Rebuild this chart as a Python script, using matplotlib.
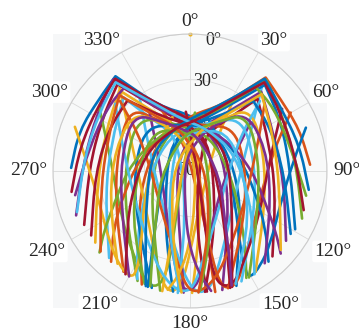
import matplotlib.pyplot as plt
import numpy as np
from matplotlib.patches import Rectangle, PathPatch
from matplotlib.path import Path
from matplotlib.transforms import IdentityTransform

# azimuth / elevation (deg) of the satellite tracks
left_az = [
    [271.5, 290.0, 308.7, 321.8, 334.9, 0.0, 33.3, 79.2, 122.6, 146.3, 158.0],
    [248.7, 274.3, 302.2, 320.1, 329.9, 347.9, 12.3, 52.5, 120.1, 153.4, 164.8],
    [243.0, 271.7, 299.6, 320.1, 332.7, 348.7, 6.6, 41.0, 142.0, 164.1, 172.9],
    [232.9, 262.6, 294.3, 318.8, 328.9, 341.9, 0.0, 51.3, 166.6, 175.1, 179.0],
    [222.9, 255.3, 289.7, 317.9, 323.0, 329.8, 335.6, 254.0, 186.1, 185.3, 185.7],
    [213.4, 246.6, 284.0, 316.4, 329.0, 344.0, 0.0, 125.0, 163.9, 167.1, 168.2],
    [205.5, 236.7, 277.1, 315.5, 337.4, 0.0, 31.2, 85.5, 130.0, 144.5, 152.2],
    [198.1, 225.0, 268.0, 313.7, 341.9, 6.2, 32.0, 75.4, 108.7, 127.2, 139.1],
    [258.1, 283.0, 307.5, 321.9, 336.7, 12.3, 55.0, 90.0, 113.1, 125.2, 132.3],
    [236.9, 268.8, 298.3, 318.5, 334.7, 0.0, 28.2, 113.2, 150.6, 157.6, 161.0],
    [218.0, 251.3, 287.3, 317.5, 335.1, 349.9, 32.0, 171.1, 180.0, 185.6, 190.6],
    [201.9, 231.0, 279.1, 318.8, 346.0, 13.6, 39.8, 137.7, 162.1, 170.9, 175.2],
    [260, 282, 305, 321, 333, 355, 20, 66, 128, 150, 160],
    [228, 258, 291, 317, 327, 338, 352, 70, 155, 170, 176],
    [210, 240, 280, 315, 331, 350, 15, 100, 145, 155, 160],
    [250, 277, 303, 320, 333, 352, 22, 70, 118, 138, 148],
]
left_el = [
    [11.9, 12.5, 13.7, 10.8, 43.2, 52.9, 59.9, 61.7, 50.7, 32.7, 8.6],
    [9.7, 19.6, 18.0, 11.5, 37.2, 52.1, 58.8, 65.0, 60.9, 36.7, 9.0],
    [12.0, 23.8, 23.0, 15.7, 43.8, 56.2, 61.3, 69.8, 63.1, 37.0, 10.0],
    [12.0, 28.6, 29.0, 19.6, 45.2, 58.0, 68.2, 81.5, 61.4, 35.5, 9.9],
    [12.0, 32.5, 35.1, 24.9, 46.0, 57.1, 66.0, 85.2, 58.7, 32.1, 9.5],
    [10.7, 36.6, 40.9, 32.4, 51.4, 61.1, 71.5, 81.9, 54.2, 30.9, 8.8],
    [10.0, 39.3, 47.3, 40.9, 55.6, 62.2, 64.4, 64.8, 46.8, 27.4, 10.6],
    [9.2, 41.3, 52.9, 48.8, 58.0, 59.4, 58.8, 55.8, 44.6, 27.6, 11.2],
    [12.9, 22.1, 21.5, 20.2, 48.2, 58.8, 57.7, 49.0, 36.0, 21.1, 9.4],
    [12.5, 27.8, 29.9, 28.1, 51.2, 59.5, 69.0, 69.8, 42.9, 24.1, 8.8],
    [12.7, 34.1, 38.7, 36.1, 58.6, 71.2, 83.8, 68.6, 42.3, 22.1, 10.6],
    [10.1, 40.6, 56.5, 54.8, 62.7, 67.5, 74.5, 70.3, 46.9, 27.0, 11.0],
    [11, 16, 16, 12, 40, 54, 60, 63, 55, 35, 9],
    [11, 30, 32, 22, 46, 57, 67, 80, 60, 33, 10],
    [10, 38, 44, 37, 53, 62, 67, 70, 50, 29, 10],
    [11, 20, 19, 14, 41, 56, 60, 58, 45, 28, 10],
]

right_az = [
    [87, 69, 51, 39, 26, 2, 328, 282, 239, 215, 203],
    [113, 87, 59, 40, 31, 14, 349, 305, 238, 205, 194],
    [119, 90, 62, 41, 28, 12, 354, 316, 216, 196, 188],
    [126, 96, 66, 42, 32, 19, 1, 300, 195, 186, 183],
    [136, 104, 71, 43, 37, 30, 24, 110, 172, 173, 172],
    [147, 114, 77, 44, 31, 16, 359, 232, 197, 194, 193],
    [155, 124, 84, 45, 23, 1, 330, 275, 229, 214, 206],
    [162, 134, 92, 47, 18, 354, 327, 284, 251, 233, 221],
    [102, 77, 53, 38, 23, 348, 306, 271, 247, 235, 228],
    [122, 92, 62, 42, 26, 1, 332, 248, 210, 203, 200],
    [141, 108, 73, 43, 25, 10, 326, 189, 181, 175, 170],
    [158, 128, 80, 42, 14, 347, 321, 222, 198, 189, 185],
    [99, 77, 54, 39, 27, 5, 342, 296, 233, 212, 201],
    [131, 101, 69, 43, 33, 22, 8, 288, 204, 190, 184],
    [151, 121, 81, 45, 29, 10, 346, 258, 214, 204, 199],
    [109, 83, 57, 40, 27, 9, 338, 290, 242, 222, 212],
]
right_el = [
    [11, 13, 14, 11, 42, 53, 60, 62, 51, 33, 9],
    [10, 20, 19, 12, 38, 52, 58, 64, 60, 36, 9],
    [11, 24, 22, 15, 44, 56, 62, 70, 62, 36, 10],
    [12, 28, 30, 20, 45, 58, 68, 80, 60, 35, 10],
    [12, 32, 35, 25, 46, 57, 66, 84, 58, 32, 10],
    [11, 36, 40, 32, 51, 61, 72, 82, 54, 31, 9],
    [10, 39, 47, 41, 55, 62, 64, 65, 47, 28, 11],
    [9, 41, 53, 49, 58, 59, 59, 56, 44, 27, 11],
    [12, 22, 21, 20, 48, 59, 58, 49, 36, 21, 10],
    [12, 28, 30, 28, 51, 59, 69, 70, 43, 24, 9],
    [12, 34, 38, 36, 58, 71, 84, 68, 42, 22, 10],
    [10, 40, 56, 55, 63, 67, 74, 70, 47, 27, 11],
    [11, 16, 17, 12, 40, 54, 60, 62, 54, 35, 9],
    [11, 30, 31, 21, 46, 57, 67, 79, 60, 33, 10],
    [10, 38, 44, 37, 53, 62, 67, 70, 50, 29, 10],
    [11, 20, 19, 14, 41, 56, 60, 58, 45, 28, 10],
]

loop_az = [
    [319.9, 295.8, 234.6, 203.1, 193.6, 188.5, 184.1, 180.0, 162.6, 41.8, 31.7],
    [325.6, 294.2, 210.8, 186.2, 180.0, 175.3, 169.1, 158.7, 116.1, 57.7, 39.9],
    [334.5, 349.9, 162.6, 165.8, 165.0, 162.0, 156.4, 145.7, 115.2, 77.6, 59.9],
    [305.0, 275.9, 235.4, 212.3, 202.6, 196.8, 193.2, 193.2, 200.6, 347.5, 4.9],
    [14.5, 62.8, 125.4, 147.0, 151.2, 150.5, 143.3, 132.0, 109.6, 85.5, 69.5],
    [325.4, 284.9, 202.9, 189.1, 185.1, 181.0, 175.9, 170.2, 146.0, 78.7, 51.3],
    [56, 85, 125, 148, 157, 163, 167, 167, 160, 14, 356],
    [346, 298, 235, 212, 208, 209, 216, 228, 251, 275, 291],
    [312, 285, 228, 200, 190, 183, 178, 172, 150, 60, 45],
    [48, 75, 132, 160, 170, 177, 182, 188, 210, 300, 315],
]
loop_el = [
    [18.1, 47.4, 53.5, 31.0, 13.7, 9.0, 15.7, 35.7, 67.8, 65.2, 37.1],
    [31.4, 61.0, 57.6, 28.8, 14.5, 9.0, 13.1, 31.7, 56.8, 43.0, 15.7],
    [43.8, 71.2, 67.8, 30.6, 13.2, 8.6, 10.6, 24.3, 40.2, 34.4, 13.5],
    [17.3, 38.1, 35.3, 21.9, 12.5, 9.8, 17.2, 37.6, 67.4, 77.8, 51.5],
    [50.3, 63.9, 53.5, 29.2, 14.5, 9.4, 12.4, 18.8, 26.8, 22.3, 8.7],
    [43.3, 69.5, 52.6, 27.0, 15.6, 10.6, 15.7, 31.5, 60.4, 63.0, 39.1],
    [17, 38, 35, 22, 12, 10, 17, 37, 67, 78, 51],
    [50, 63, 53, 29, 15, 10, 12, 19, 27, 22, 9],
    [24, 45, 45, 25, 14, 10, 14, 30, 55, 55, 25],
    [24, 45, 45, 25, 14, 10, 14, 30, 55, 55, 25],
]

# single point on the horizon at north
dot_az = [0.0]
dot_el = [0.0]

theta_ticks = list(range(0, 360, 30))
elev_ticks = [90, 60, 30, 0]

colors = ['#0072BD', '#D95319', '#EDB120', '#7E2F8E', '#77AC30', '#4DBEEE', '#A2142F']

fig = plt.figure(figsize=(3.59, 3.33), dpi=100)
ax = fig.add_axes([0.1476, 0.0751, 0.7632, 0.8228], projection='polar')
pos = ax.get_position()
fig.patches.append(Rectangle((pos.x0, pos.y0), pos.width, pos.height,
                             transform=fig.transFigure, fc='#f6f7f8', ec='none', zorder=-1))
ax.set_facecolor('#f8f9f9')
ax.set_theta_zero_location('N')
ax.set_theta_direction(-1)
ax.set_ylim(0, 90)
ax.set_axisbelow(True)


def smooth_track(az, el, corner=None):
    # take the track through the polar axes' own transform, then draw it
    # as a chain of quadratic Bezier pieces; the turning point stays sharp
    xy = ax.transData.transform(np.column_stack([np.radians(az), 90 - np.asarray(el, float)]))
    verts = [xy[0], (xy[0] + xy[1]) / 2]
    codes = [Path.MOVETO, Path.LINETO]
    for i in range(1, len(xy) - 1):
        mid = (xy[i] + xy[i + 1]) / 2
        verts += [xy[i], mid]
        codes += [Path.LINETO, Path.LINETO] if i == corner else [Path.CURVE3, Path.CURVE3]
    verts.append(xy[-1])
    codes.append(Path.LINETO)
    return Path(verts, codes)


# interleave the tracks so the colour order runs through all families
tracks = []
for i in range(len(left_az)):
    for az, el in ((left_az[i], left_el[i]), (right_az[i], right_el[i])):
        tracks.append((az, el, 3 if el[3] < 30 else None))
    if i < len(loop_az):
        tracks.append((loop_az[i], loop_el[i], None))

for k, (az, el, corner) in enumerate(tracks):
    p = PathPatch(smooth_track(az, el, corner), transform=IdentityTransform(), fill=False,
                  ec=colors[k % 7], lw=1.9, capstyle='round', joinstyle='round', zorder=2)
    ax.add_artist(p)
    p.set_clip_path(ax.patch)

ax.plot(np.radians(dot_az), 90 - np.array(dot_el), 'o', color='#EDB120', ms=2, clip_on=False)

ax.set_xticks(np.radians(theta_ticks))
ax.set_xticklabels([])
ax.set_yticks([90 - e for e in elev_ticks])
ax.set_yticklabels([])
ax.grid(color='#dadada', lw=0.6)
ax.spines['polar'].set_color('#cccccc')
ax.spines['polar'].set_linewidth(0.8)
ax.tick_params(length=0)

font = dict(family=['Liberation Serif', 'DejaVu Serif'], color='#262626')
for a in theta_ticks:
    s, c = np.sin(np.radians(a)), np.cos(np.radians(a))
    ha = 'left' if s > 0.1 else ('right' if s < -0.1 else 'center')
    va = 'bottom' if c > 0.1 else ('top' if c < -0.1 else 'center')
    r = {'bottom': 92.5, 'top': 94.5, 'center': 94}[va]
    ax.text(np.radians(a), r, f'{a}°', ha=ha, va=va, fontsize=14, clip_on=False,
            bbox=dict(boxstyle='round,pad=0.12', fc='white', ec='none'), **font)

for e in elev_ticks:
    r = 87 if e == 0 else 90 - e
    ax.text(np.radians(10), r, f'{e}°', ha='center', va='center', fontsize=13,
            zorder=1, **font)

fig.savefig('out.png', dpi=100)
